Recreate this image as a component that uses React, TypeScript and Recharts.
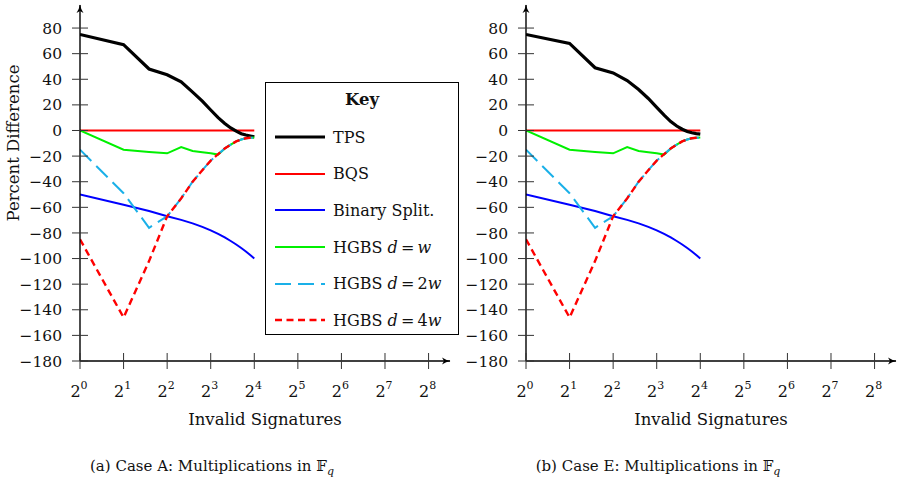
import React from "react";
import { Line, LineChart, XAxis, YAxis } from "recharts";

const FONT = "'DejaVu Serif', 'Liberation Serif', serif";

// number of invalid signatures, plotted on a log2 axis
const invalidSignatures = [1, 2, 3, 4, 5, 6, 7, 8, 9, 10, 11, 12, 13, 14, 15, 16];
const xTickValues = [1, 2, 4, 8, 16, 32, 64, 128, 256];
const xTickExponents = ["0", "1", "2", "3", "4", "5", "6", "7", "8"];
const yTickValues = [-180, -160, -140, -120, -100, -80, -60, -40, -20, 0, 20, 40, 60, 80];

const tpsCaseA = [75, 67, 48, 43.5, 38, 30, 23, 16, 10, 5.5, 2, -0.5, -2.5, -3.5, -4.3, -5];
const tpsCaseE = [75, 68, 49, 45, 39, 32, 25, 18, 12, 7, 3.5, 1, -0.8, -1.8, -2.4, -2.8];
const bqs = [0, 0, 0, 0, 0, 0, 0, 0, 0, 0, 0, 0, 0, 0, 0, 0];
const binarySplit = [-50, -58, -62.8, -67, -69.8, -72.5, -75.3, -78, -80.8, -83.5, -86.3, -89, -91.8, -94.5, -97.3, -100];
const hgbsW = [0, -15, -16.8, -17.8, -13, -16, -17, -17.8, -18.8, -14, -11, -8.5, -7, -6, -5.7, -5.5];
const hgbs2W = [-15, -49, -76, -67, -53, -40, -31, -23.5, -18.5, -14, -11, -8.5, -7, -6, -5.7, -5.5];
const hgbs4W = [-85, -146, -102, -67, -53, -40, -31, -23.5, -18.5, -14, -11, -8.5, -7, -6, -5.7, -5.5];

type SeriesDef = {
  key: string;
  label: React.ReactNode;
  color: string;
  width: number;
  dash?: string;
};

const SERIES: SeriesDef[] = [
  { key: "tps", label: "TPS", color: "#000000", width: 3.2 },
  { key: "bqs", label: "BQS", color: "#ff0000", width: 2 },
  { key: "bin", label: "Binary Split.", color: "#0000ff", width: 2 },
  {
    key: "w1",
    label: (
      <>
        HGBS <i>d</i>
        {"\u2009=\u2009"}
        <i>w</i>
      </>
    ),
    color: "#00f000",
    width: 2,
  },
  {
    key: "w2",
    label: (
      <>
        HGBS <i>d</i>
        {"\u2009=\u2009"}2<i>w</i>
      </>
    ),
    color: "#1ab0e8",
    width: 2,
    dash: "16 7",
  },
  {
    key: "w4",
    label: (
      <>
        HGBS <i>d</i>
        {"\u2009=\u2009"}4<i>w</i>
      </>
    ),
    color: "#ff0000",
    width: 2.4,
    dash: "7 4.5",
  },
];

// BQS underneath TPS, the rest in key order
const DRAW_ORDER = ["bqs", "tps", "bin", "w1", "w2", "w4"];

function buildRows(tps: number[]) {
  return invalidSignatures.map((n, i) => ({
    n,
    tps: tps[i],
    bqs: bqs[i],
    bin: binarySplit[i],
    w1: hgbsW[i],
    w2: hgbs2W[i],
    w4: hgbs4W[i],
  }));
}

function XTick(props: any) {
  const { x, y, index } = props;
  return (
    <g>
      <line x1={x} x2={x} y1={y - 8} y2={y + 8} stroke="#333" strokeWidth={1} />
      <text x={x - 1} y={y + 36} textAnchor="middle" fontSize={16} fontFamily={FONT} fill="#111">
        2
        <tspan fontSize={11} dy={-8}>
          {xTickExponents[index]}
        </tspan>
      </text>
    </g>
  );
}

function YTick(props: any) {
  const { x, y, payload } = props;
  const v = Number(payload.value);
  const label = v < 0 ? `\u2212${-v}` : `${v}`;
  return (
    <g>
      <line x1={x - 8} x2={x + 8} y1={y} y2={y} stroke="#333" strokeWidth={1} />
      <text x={x - 18} y={y} dy="0.36em" textAnchor="end" fontSize={15.5} fontFamily={FONT} fill="#111">
        {label}
      </text>
    </g>
  );
}

function Panel({ tps }: { tps: number[] }) {
  const rows = buildRows(tps);
  return (
    <LineChart width={455} height={431} data={rows} margin={{ top: 5, right: 5, bottom: 0, left: 0 }}>
      <XAxis
        dataKey="n"
        type="number"
        scale="log"
        domain={[1, 360]}
        ticks={xTickValues}
        allowDataOverflow
        height={70}
        tickSize={0}
        tickMargin={0}
        tickLine={false}
        tick={<XTick />}
        axisLine={{ stroke: "#000", strokeWidth: 1.4, markerEnd: "url(#axisArrow)" }}
        label={{
          value: "Invalid Signatures",
          position: "insideBottom",
          offset: 6,
          fontSize: 16.5,
          fontFamily: FONT,
          fill: "#111",
        }}
      />
      <YAxis
        type="number"
        domain={[-180, 98]}
        ticks={yTickValues}
        allowDataOverflow
        width={80}
        tickSize={0}
        tickMargin={0}
        tickLine={false}
        tick={<YTick />}
        axisLine={{ stroke: "#000", strokeWidth: 1.4, markerStart: "url(#axisArrow)" }}
      />
      {DRAW_ORDER.map((k) => {
        const s = SERIES.find((d) => d.key === k)!;
        return (
          <Line
            key={s.key}
            dataKey={s.key}
            type="linear"
            stroke={s.color}
            strokeWidth={s.width}
            strokeDasharray={s.dash}
            dot={false}
            activeDot={false}
            isAnimationActive={false}
          />
        );
      })}
    </LineChart>
  );
}

function KeyBox() {
  return (
    <div
      style={{
        position: "absolute",
        left: 265,
        top: 82,
        width: 194,
        height: 253,
        boxSizing: "border-box",
        border: "1.6px solid #000",
        background: "#fff",
        fontFamily: FONT,
        color: "#111",
      }}
    >
      <div
        style={{
          position: "absolute",
          left: 0,
          right: 0,
          top: 5,
          height: 24,
          lineHeight: "24px",
          textAlign: "center",
          fontWeight: "bold",
          fontSize: 16.5,
        }}
      >
        Key
      </div>
      {SERIES.map((s, i) => (
        <div
          key={s.key}
          style={{
            position: "absolute",
            left: 8,
            top: 36 + i * 36.6,
            height: 36.6,
            display: "flex",
            alignItems: "center",
            whiteSpace: "nowrap",
            fontSize: 16,
          }}
        >
          <svg width={52} height={10} style={{ marginRight: 7 }}>
            <line
              x1={1}
              x2={51}
              y1={5}
              y2={5}
              stroke={s.color}
              strokeWidth={s.width}
              strokeDasharray={s.dash}
            />
          </svg>
          <span>{s.label}</span>
        </div>
      ))}
    </div>
  );
}

function Caption({ left, tag, caseName }: { left: number; tag: string; caseName: string }) {
  return (
    <div
      style={{
        position: "absolute",
        left: left - 150,
        width: 300,
        top: 457,
        textAlign: "center",
        fontFamily: FONT,
        fontSize: 15,
        color: "#111",
        whiteSpace: "nowrap",
      }}
    >
      ({tag}) Case {caseName}: Multiplications in{" "}
      <span style={{ fontFamily: "'DejaVu Serif', 'DejaVu Sans', serif" }}>{"\u{1D53D}"}</span>
      <sub style={{ fontStyle: "italic", fontSize: 11 }}>q</sub>
    </div>
  );
}

export default function App() {
  return (
    <div
      style={{
        position: "absolute",
        left: 0,
        top: 0,
        width: 901,
        height: 488,
        background: "#fff",
        overflow: "hidden",
      }}
    >
      <svg width={0} height={0} style={{ position: "absolute" }}>
        <defs>
          <marker
            id="axisArrow"
            viewBox="0 0 9 8"
            refX={8}
            refY={4}
            markerWidth={9}
            markerHeight={8}
            markerUnits="userSpaceOnUse"
            orient="auto-start-reverse"
          >
            <path d="M0,0.5 Q4,3.2 8.5,4 Q4,4.8 0,7.5 L2,4 Z" fill="#000" />
          </marker>
        </defs>
      </svg>

      <div style={{ position: "absolute", left: 0, top: 0 }}>
        <Panel tps={tpsCaseA} />
      </div>
      <div style={{ position: "absolute", left: 446, top: 0 }}>
        <Panel tps={tpsCaseE} />
      </div>

      <div
        style={{
          position: "absolute",
          left: 14 - 100,
          top: 143 - 11,
          width: 200,
          height: 22,
          lineHeight: "22px",
          textAlign: "center",
          transform: "rotate(-90deg)",
          fontFamily: FONT,
          fontSize: 16.5,
          color: "#111",
        }}
      >
        Percent Difference
      </div>

      <KeyBox />

      <Caption left={212} tag="a" caseName="A" />
      <Caption left={658} tag="b" caseName="E" />
    </div>
  );
}
